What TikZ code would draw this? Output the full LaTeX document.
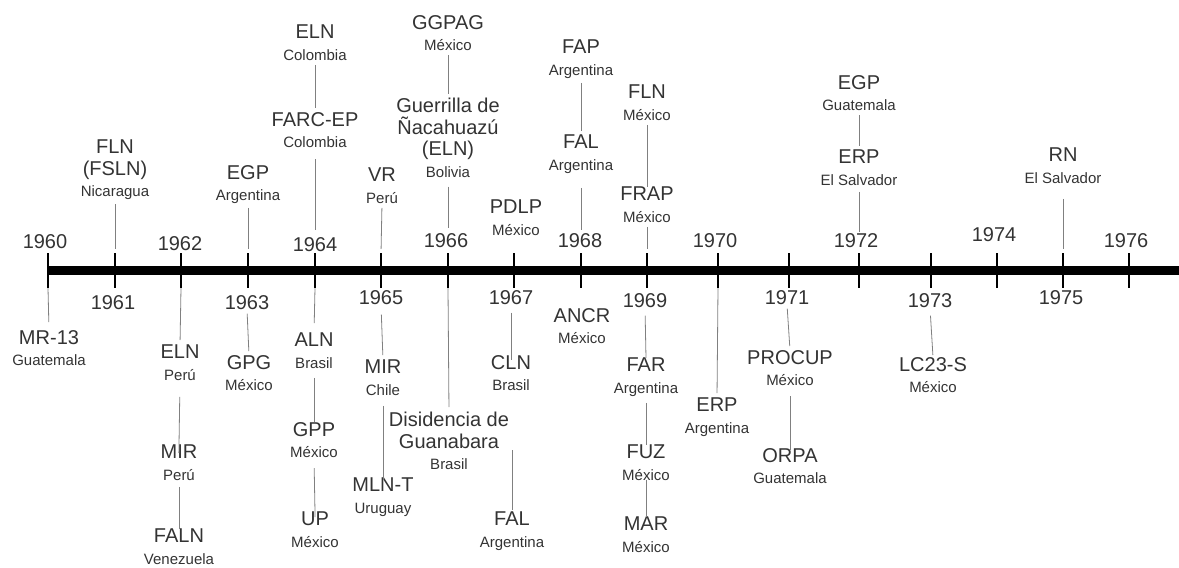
\documentclass[tikz,border=0pt]{standalone}
\usepackage{fontspec}
\setmainfont{Liberation Sans}

\newcommand{\ctry}[1]{{\fontsize{15}{21.5}\selectfont #1}}

\begin{document}
\begin{tikzpicture}[x=1pt, y=-1pt,
  org/.style={anchor=north, inner sep=0pt, align=center, text=black!80, font=\fontsize{20}{21.5}\selectfont},
  yearlbl/.style={anchor=north, inner sep=0pt, text=black!80, font=\fontsize{20}{21.5}\selectfont},
  link/.style={draw=black!50, line width=0.8pt, shorten <=4pt, shorten >=4pt},
  tickmark/.style={draw=black, line width=2pt}]
\useasboundingbox (0,0) rectangle (1179,568);

\draw [line width=9.5pt] (47,270.5) -- (1179,270.5);
\foreach \yr/\x in {1960/48, 1961/115, 1962/181, 1963/248, 1964/315, 1965/381, 1966/448, 1967/514, 1968/581,
                    1969/647, 1970/718, 1971/789, 1972/859, 1973/931, 1974/997, 1975/1063, 1976/1129}
  \draw [tickmark] (\x,253) coordinate (u\yr) -- (\x,288) coordinate (d\yr);
\foreach \yr/\x/\y in {1960/45/234, 1961/113/295, 1962/180/236, 1963/247/295, 1964/315/237, 1965/381/290,
                       1966/446/233, 1967/511/290, 1968/580/233, 1969/645/293, 1970/715/233, 1971/787/290,
                       1972/856/233, 1973/930/293, 1974/994/227, 1975/1061/290, 1976/1126/233}
  \node [yearlbl] (y\yr) at (\x,\y) {\yr};

\node [org] (fln61) at (115,140) {FLN\\(FSLN)\\\ctry{Nicaragua}};
\node [org] (egp63) at (248,165) {EGP\\\ctry{Argentina}};
\node [org] (eln64) at (315,25) {ELN\\\ctry{Colombia}};
\node [org] (farc64) at (315,112) {FARC-EP\\\ctry{Colombia}};
\node [org] (vr65) at (382,168) {VR\\\ctry{Perú}};
\node [org] (ggpag66) at (448,15) {GGPAG\\\ctry{México}};
\node [org] (guer66) at (448,98) {Guerrilla de\\Ñacahuazú\\(ELN)\\\ctry{Bolivia}};
\node [org] (pdlp67) at (516,200) {PDLP\\\ctry{México}};
\node [org] (fap68) at (581,40) {FAP\\\ctry{Argentina}};
\node [org] (fal68) at (581,135) {FAL\\\ctry{Argentina}};
\node [org] (fln69) at (647,85) {FLN\\\ctry{México}};
\node [org] (frap69) at (647,187) {FRAP\\\ctry{México}};
\node [org] (egp72) at (859,75) {EGP\\\ctry{Guatemala}};
\node [org] (erp72) at (859,150) {ERP\\\ctry{El Salvador}};
\node [org] (rn75) at (1063,148) {RN\\\ctry{El Salvador}};

\node [org] (mr13) at (49,330) {MR-13\\\ctry{Guatemala}};
\node [org] (eln62) at (180,345) {ELN\\\ctry{Perú}};
\node [org] (mir62) at (179,445) {MIR\\\ctry{Perú}};
\node [org] (faln62) at (179,529) {FALN\\\ctry{Venezuela}};
\node [org] (gpg63) at (249,355) {GPG\\\ctry{México}};
\node [org] (aln64) at (314,333) {ALN\\\ctry{Brasil}};
\node [org] (gpp64) at (314,422) {GPP\\\ctry{México}};
\node [org] (up64) at (315,512) {UP\\\ctry{México}};
\node [org] (mir65) at (383,360) {MIR\\\ctry{Chile}};
\node [org] (mlnt65) at (383,478) {MLN-T\\\ctry{Uruguay}};
\node [org] (dis66) at (449,412) {Disidencia de\\Guanabara\\\ctry{Brasil}};
\node [org] (cln67) at (511,355) {CLN\\\ctry{Brasil}};
\node [org] (fal67) at (512,512) {FAL\\\ctry{Argentina}};
\node [org] (ancr68) at (582,308) {ANCR\\\ctry{México}};
\node [org] (far69) at (646,358) {FAR\\\ctry{Argentina}};
\node [org] (fuz69) at (646,445) {FUZ\\\ctry{México}};
\node [org] (mar69) at (646,517) {MAR\\\ctry{México}};
\node [org] (erp70) at (717,398) {ERP\\\ctry{Argentina}};
\node [org] (procup71) at (790,350) {PROCUP\\\ctry{México}};
\node [org] (orpa71) at (790,448) {ORPA\\\ctry{Guatemala}};
\node [org] (lc23s73) at (933,357) {LC23-S\\\ctry{México}};
\coordinate (gap67) at (512,450);

\draw [link] (fln61.south) to (u1961);
\draw [link] (egp63.south) to (u1963);
\draw [link] (eln64.south) to (farc64.north);
\draw [link, shorten <=11pt, shorten >=23pt] (farc64.south) to (u1964);
\draw [link] (vr65.south) to (u1965);
\draw [link] (ggpag66.south) to (guer66.north);
\draw [link, shorten <=9pt, shorten >=25pt] (guer66.south) to (u1966);
\draw [link] (fap68.south) to (fal68.north);
\draw [link, shorten <=14pt, shorten >=23pt] (fal68.south) to (u1968);
\draw [link, shorten >=0pt] (fln69.south) to (frap69.north);
\draw [link] (frap69.south) to (u1969);
\draw [link] (egp72.south) to (erp72.north);
\draw [link, shorten <=6pt, shorten >=21pt] (erp72.south) to (u1972);
\draw [link, shorten <=15pt] (rn75.south) to (u1975);

\draw [link, shorten <=0pt, shorten >=8pt] (d1960) to (mr13.north);
\draw [link, shorten <=0pt, shorten >=5pt] (d1962) to (eln62.north);
\draw [link, shorten <=16pt, shorten >=-8pt] (eln62.south) to (mir62.north);
\draw [link, shorten <=6pt, shorten >=0pt] (mir62.south) to (faln62.north);
\draw [link] (y1963.south) to (gpg63.north);
\draw [link, shorten <=0pt, shorten >=10pt] (d1964) to (aln64.north);
\draw [link, shorten <=9pt, shorten >=0pt] (aln64.south) to (gpp64.north);
\draw [link, shorten <=10pt, shorten >=-5pt] (gpp64.south) to (up64.north);
\draw [link, shorten <=10pt, shorten >=5pt] (y1965.south) to (mir65.north);
\draw [link, shorten <=10pt, shorten >=-2pt] (mir65.south) to (mlnt65.north);
\draw [link, shorten <=0pt, shorten >=5pt] (d1966) to (dis66.north);
\draw [link, shorten <=8pt, shorten >=-5pt] (y1967.south) to (cln67.north);
\draw [link, shorten <=0pt, shorten >=2pt] (gap67) to (fal67.north);
\draw [link, shorten <=8pt, shorten >=0pt] (y1969.south) to (far69.north);
\draw [link, shorten <=6pt, shorten >=0pt] (far69.south) to (fuz69.north);
\draw [link, shorten <=-1pt, shorten >=0pt] (fuz69.south) to (mar69.north);
\draw [link, shorten <=0pt, shorten >=5pt] (d1970) to (erp70.north);
\draw [link] (y1971.south) to (procup71.north);
\draw [link, shorten <=10pt, shorten >=-2pt] (procup71.south) to (orpa71.north);
\draw [link, shorten <=8pt, shorten >=2pt] (y1973.south) to (lc23s73.north);
\end{tikzpicture}
\end{document}
